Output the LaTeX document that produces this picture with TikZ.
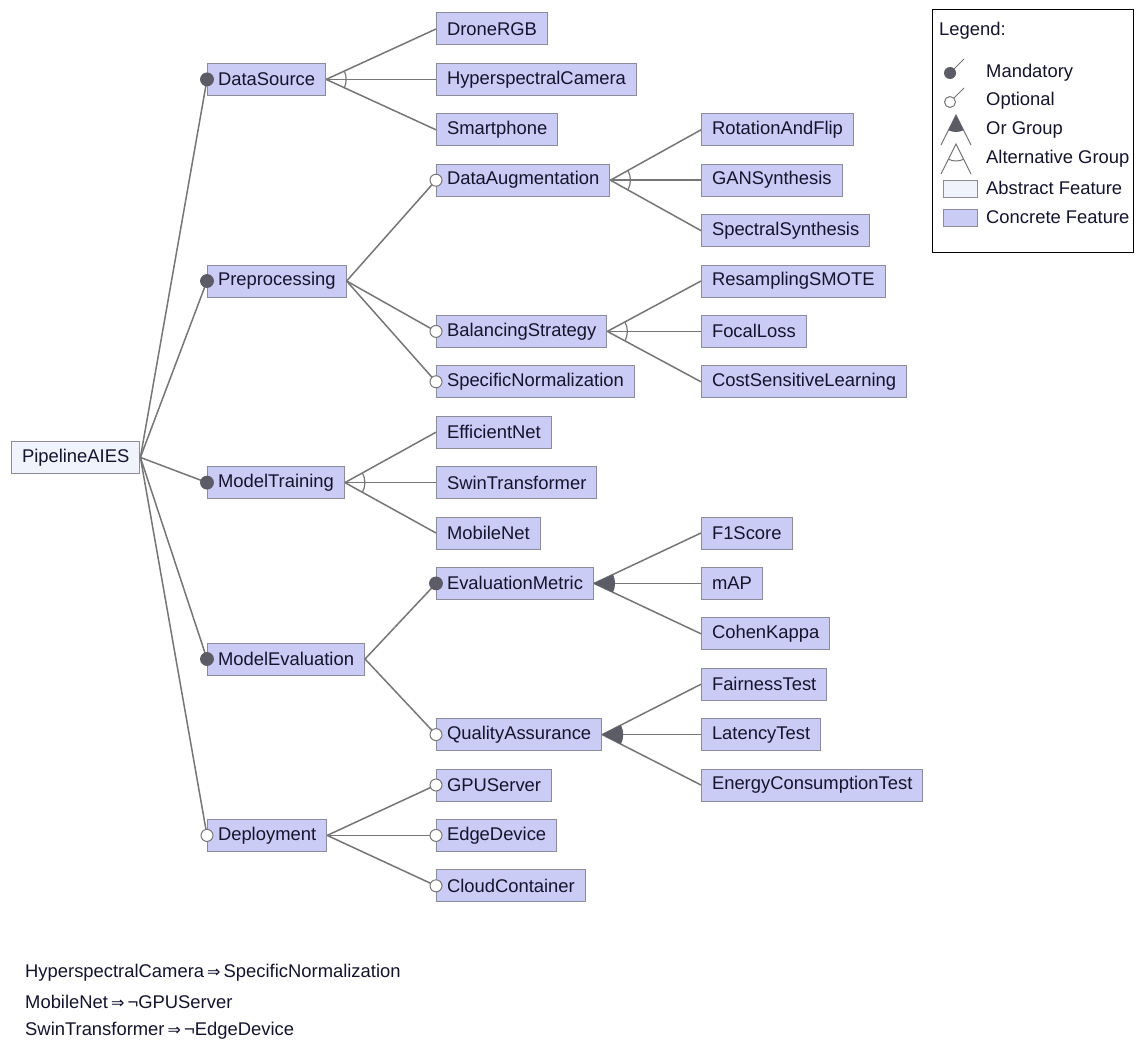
\documentclass[tikz,border=0pt]{standalone}
\usepackage{fontspec}
\setmainfont{Liberation Sans}
\newfontfamily\symfont{DejaVu Sans}
\usetikzlibrary{calc}

\definecolor{concrete}{RGB}{202,204,245}
\definecolor{abstractf}{RGB}{240,242,252}
\definecolor{boxline}{RGB}{140,140,152}
\definecolor{edgecol}{RGB}{118,118,118}
\definecolor{markcol}{RGB}{92,92,102}
\definecolor{textcol}{RGB}{20,20,45}
\newcommand\featfont{\fontsize{18.4}{22}\selectfont}
\newcommand\impl{\,{\symfont\fontsize{16}{16}\selectfont\raisebox{0.5pt}{⇒}}\,}

\tikzset{
  feat/.style={draw=boxline, fill=concrete, line width=1pt, minimum height=32pt,
    inner xsep=10.5pt, inner ysep=0pt, anchor=west, font=\featfont, text=textcol},
  absfeat/.style={feat, fill=abstractf},
  conn/.style={draw=edgecol, line width=1.5pt},
  mand/.style={circle, fill=markcol, draw=markcol, line width=0.8pt, inner sep=0pt, minimum size=13pt},
  opt/.style={circle, fill=white, draw=edgecol, line width=1pt, inner sep=0pt, minimum size=12pt},
  plain/.style={anchor=west, font=\featfont, text=textcol, inner sep=0pt},
}

% alternative group: arc across the child edges, centred on the parent
\newcommand\altgroup[3]{%
  \draw[draw=edgecol, line width=1.2pt] let \p1=(#1.east), \p2=(#2.west), \p3=(#3.west),
    \n1={atan2(\y2-\y1,\x2-\x1)}, \n2={atan2(\y3-\y1,\x3-\x1)} in
    ($(\p1)+(\n1:20pt)$) arc[start angle=\n1, end angle=\n2, radius=20pt];}
% or group: filled wedge between the outer child edges
\newcommand\orgroup[3]{%
  \fill[markcol] let \p1=(#1.east), \p2=(#2.west), \p3=(#3.west),
    \n1={atan2(\y2-\y1,\x2-\x1)}, \n2={atan2(\y3-\y1,\x3-\x1)} in
    (\p1) -- ($(\p1)+(\n1:21pt)$) arc[start angle=\n1, end angle=\n2, radius=21pt] -- cycle;}

\begin{document}
\begin{tikzpicture}[x=1pt, y=-1pt]
\useasboundingbox[fill=white] (0,0) rectangle (1137,1041);

% root
\node[absfeat] (root) at (11,457.4) {PipelineAIES};

% first level
\node[feat] (ds)  at (207,79.4)  {DataSource};
\node[feat] (pre) at (207,281)   {Preprocessing};
\node[feat] (mt)  at (207,482.6) {ModelTraining};
\node[feat] (me)  at (207,659)   {ModelEvaluation};
\node[feat] (dep) at (207,835.4) {Deployment};

% second level
\node[feat] (drone) at (436,29)    {DroneRGB};
\node[feat] (hyper) at (436,79.4)  {HyperspectralCamera};
\node[feat] (phone) at (436,129.8) {Smartphone};
\node[feat] (aug)   at (436,180.2) {DataAugmentation};
\node[feat] (bal)   at (436,331.4) {BalancingStrategy};
\node[feat] (norm)  at (436,381.8) {SpecificNormalization};
\node[feat] (eff)   at (436,432.2) {EfficientNet};
\node[feat] (swin)  at (436,482.6) {SwinTransformer};
\node[feat] (mob)   at (436,533)   {MobileNet};
\node[feat] (evm)   at (436,583.4) {EvaluationMetric};
\node[feat] (qa)    at (436,734.6) {QualityAssurance};
\node[feat] (gpu)   at (436,785)   {GPUServer};
\node[feat] (edge)  at (436,835.4) {EdgeDevice};
\node[feat] (cloud) at (436,885.8) {CloudContainer};

% third level
\node[feat] (rot)    at (701,129.8) {RotationAndFlip};
\node[feat] (gan)    at (701,180.2) {GANSynthesis};
\node[feat] (spec)   at (701,230.6) {SpectralSynthesis};
\node[feat] (smote)  at (701,281)   {ResamplingSMOTE};
\node[feat] (focal)  at (701,331.4) {FocalLoss};
\node[feat] (cost)   at (701,381.8) {CostSensitiveLearning};
\node[feat] (f1)     at (701,533)   {F1Score};
\node[feat] (map)    at (701,583.4) {mAP};
\node[feat] (kappa)  at (701,633.8) {CohenKappa};
\node[feat] (fair)   at (701,684.2) {FairnessTest};
\node[feat] (lat)    at (701,734.6) {LatencyTest};
\node[feat] (energy) at (701,785)   {EnergyConsumptionTest};

% edges
\foreach \p/\c in {root/ds, root/pre, root/mt, root/me, root/dep,
    ds/drone, ds/hyper, ds/phone, pre/aug, pre/bal, pre/norm,
    aug/rot, aug/gan, aug/spec, bal/smote, bal/focal, bal/cost,
    mt/eff, mt/swin, mt/mob, me/evm, me/qa,
    evm/f1, evm/map, evm/kappa, qa/fair, qa/lat, qa/energy,
    dep/gpu, dep/edge, dep/cloud}
  \draw[conn] (\p.east) -- (\c.west);

% group markers
\altgroup{ds}{drone}{phone}
\altgroup{aug}{rot}{spec}
\altgroup{bal}{smote}{cost}
\altgroup{mt}{eff}{mob}
\orgroup{evm}{f1}{kappa}
\orgroup{qa}{fair}{energy}

% mandatory / optional markers
\foreach \f in {ds, pre, mt, me, evm}
  \node[mand] (m-\f) at (\f.west) {};
\foreach \f in {dep, aug, bal, norm, qa, gpu, edge, cloud}
  \node[opt] (o-\f) at (\f.west) {};

% legend
\draw[black, line width=1pt, fill=white] (932,10) rectangle (1133,252);
\node[plain] (lg)   at (939,31)    {Legend:};
\node[plain] (lg1)  at (986,72.5)  {Mandatory};
\node[plain] (lg2)  at (986,101)   {Optional};
\node[plain] (lg3)  at (986,130)   {Or Group};
\node[plain] (lg4)  at (986,159)   {Alternative Group};
\node[plain] (lg5)  at (986,188)   {Abstract Feature};
\node[plain] (lg6)  at (986,217)   {Concrete Feature};

\draw[edgecol, line width=1pt] (950,73) -- (964,59);
\fill[markcol] (950,73) circle[radius=6pt];
\draw[edgecol, line width=1pt] (950,102) -- (964,88);
\draw[edgecol, line width=1pt, fill=white] (950,102) circle[radius=5.5pt];
\draw[edgecol, line width=1pt] (941,145) -- (956,115) -- (971,145);
\fill[markcol] (956,115) -- ++(-116.6:17pt) arc[start angle=-116.6, end angle=-63.4, radius=17pt] -- cycle;
\draw[edgecol, line width=1pt] (941,174) -- (956,144) -- (971,174);
\draw[edgecol, line width=1pt] (956,144) ++(-116.6:17pt) arc[start angle=-116.6, end angle=-63.4, radius=17pt];
\draw[boxline, fill=abstractf] (943,180) rectangle (977,197);
\draw[boxline, fill=concrete] (943,209) rectangle (977,226);

% cross-tree constraints
\node[plain] (c1) at (25,973)  {HyperspectralCamera\impl SpecificNormalization};
\node[plain] (c2) at (25,1002) {MobileNet\impl ¬GPUServer};
\node[plain] (c3) at (25,1031) {SwinTransformer\impl ¬EdgeDevice};
\end{tikzpicture}
\end{document}
